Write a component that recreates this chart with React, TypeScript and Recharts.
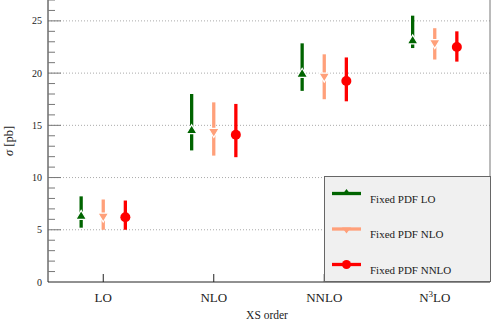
import React from 'react';
import {
  ComposedChart,
  Scatter,
  XAxis,
  YAxis,
  ErrorBar,
  ReferenceLine,
  Legend,
} from 'recharts';

// ---- data ----
const categories = ['LO', 'NLO', 'NNLO', 'N3LO'];

const fixedLoCentral = [6.4, 14.6, 20.0, 23.2];
const fixedLoLow = [5.2, 12.6, 18.3, 22.4];
const fixedLoHigh = [8.2, 18.0, 22.85, 25.5];

const fixedNloCentral = [6.2, 14.3, 19.6, 22.8];
const fixedNloLow = [5.0, 12.1, 17.5, 21.3];
const fixedNloHigh = [7.9, 17.2, 21.8, 24.3];

const fixedNnloCentral = [6.2, 14.1, 19.25, 22.5];
const fixedNnloLow = [5.0, 11.95, 17.3, 21.1];
const fixedNnloHigh = [7.8, 17.05, 21.5, 24.0];

const seriesNames = ['Fixed PDF LO', 'Fixed PDF NLO', 'Fixed PDF NNLO'];
const seriesOffsets = [-0.2, 0, 0.2];

const yTicks = Array.from({ length: 28 }, (_, i) => i);
const gridValues = [5, 10, 15, 20, 25];
const xTicks = [0, 1, 2, 3];

const COLORS = ['#006400', '#FFA07A', '#FF0000'];
const FONT = '"Liberation Serif", "Times New Roman", serif';

function build(central: number[], low: number[], high: number[], off: number) {
  return central.map((v, i) => ({
    x: i + off,
    y: v,
    err: [v - low[i], high[i] - v],
  }));
}

const seriesData = [
  build(fixedLoCentral, fixedLoLow, fixedLoHigh, seriesOffsets[0]),
  build(fixedNloCentral, fixedNloLow, fixedNloHigh, seriesOffsets[1]),
  build(fixedNnloCentral, fixedNnloLow, fixedNnloHigh, seriesOffsets[2]),
];

// ---- markers ----
const TriUp = (p: any) => {
  const { cx, cy } = p;
  if (cx == null || cy == null) return <g />;
  return (
    <polygon
      points={`${cx},${cy - 4.8} ${cx + 5.4},${cy + 4.2} ${cx - 5.4},${cy + 4.2}`}
      fill={COLORS[0]}
      stroke="#fff"
      strokeWidth={1.2}
    />
  );
};
const TriDown = (p: any) => {
  const { cx, cy } = p;
  if (cx == null || cy == null) return <g />;
  return (
    <polygon
      points={`${cx},${cy + 4.8} ${cx + 5.4},${cy - 4.2} ${cx - 5.4},${cy - 4.2}`}
      fill={COLORS[1]}
      stroke="#fff"
      strokeWidth={1.2}
    />
  );
};
const Dot = (p: any) => {
  const { cx, cy } = p;
  if (cx == null || cy == null) return <g />;
  return <circle cx={cx} cy={cy} r={5} fill={COLORS[2]} />;
};
const Empty = () => <g />;
const shapes = [TriUp, TriDown, Dot];

// ---- ticks ----
const YTick = (props: any) => {
  const { x, y, payload } = props;
  const v = payload.value;
  const major = v % 5 === 0;
  const ax = x + 6;
  return (
    <g>
      {v !== 0 && (
        <line x1={ax} x2={ax + (major ? 13 : 7)} y1={y} y2={y} stroke="#777" strokeWidth={1} />
      )}
      {major && (
        <text x={x} y={y} dy={3.5} textAnchor="end" fontSize={10} fontFamily={FONT} fill="#222">
          {v}
        </text>
      )}
    </g>
  );
};

const XTick = (props: any) => {
  const { x, y, payload } = props;
  const label = categories[payload.value];
  return (
    <g>
      <line x1={x} x2={x} y1={y - 8} y2={y} stroke="#222" strokeWidth={1} />
      <text x={x} y={y + 20} textAnchor="middle" fontSize={13} fontFamily={FONT} fill="#222">
        {label === 'N3LO' ? (
          <>
            N<tspan fontSize={9} dy={-5}>3</tspan>
            <tspan dy={5}>LO</tspan>
          </>
        ) : (
          label
        )}
      </text>
    </g>
  );
};

// ---- legend ----
const LegendIcon = ({ i, y }: { i: number; y: number }) => {
  const cx = 21.5;
  const c = COLORS[i];
  return (
    <g>
      <line x1={7} x2={36} y1={y} y2={y} stroke={c} strokeWidth={3.3} />
      {i === 0 && (
        <polygon points={`${cx},${y - 4.5} ${cx + 4.5},${y + 1.5} ${cx - 4.5},${y + 1.5}`} fill={c} />
      )}
      {i === 1 && (
        <polygon points={`${cx},${y + 4.5} ${cx + 4.5},${y - 1.5} ${cx - 4.5},${y - 1.5}`} fill={c} />
      )}
      {i === 2 && <circle cx={cx} cy={y} r={4.5} fill={c} />}
    </g>
  );
};

const LegendContent = () => (
  <div
    style={{
      width: 167,
      height: 106,
      boxSizing: 'border-box',
      border: '1px solid #666',
      background: '#f0f0f0',
    }}
  >
    <svg width={165} height={104} style={{ display: 'block' }}>
      {seriesNames.map((name, i) => {
        const y = 16.5 + i * 35.5;
        return (
          <g key={name}>
            <LegendIcon i={i} y={y} />
            <text x={45} y={y + 9} fontSize={11} fontFamily={FONT} fill="#222">
              {name}
            </text>
          </g>
        );
      })}
    </svg>
  </div>
);

export default function App() {
  return (
    <div style={{ position: 'absolute', left: 0, top: 0, width: 491, height: 322, background: '#fff' }}>
      <ComposedChart width={491} height={322} margin={{ top: 0, right: 0, bottom: 0, left: 0 }}>
        <XAxis
          xAxisId="main"
          type="number"
          dataKey="x"
          domain={[-0.5, 3.5]}
          ticks={xTicks}
          allowDataOverflow
          height={40}
          tickSize={0}
          tickMargin={0}
          tickLine={false}
          axisLine={{ stroke: '#222', strokeWidth: 1 }}
          tick={<XTick />}
          interval={0}
          label={{
            content: (lp: any) => {
              const vb = lp.viewBox || {};
              return (
                <text
                  x={(vb.x ?? 48) + (vb.width ?? 442) / 2 - 2}
                  y={319}
                  textAnchor="middle"
                  fontSize={11.5}
                  fontFamily={FONT}
                  fill="#222"
                >
                  XS order
                </text>
              );
            },
          }}
        />
        <XAxis
          xAxisId="top"
          orientation="top"
          type="number"
          dataKey="x"
          domain={[-0.5, 3.5]}
          height={0}
          tick={false}
          tickLine={false}
          axisLine={{ stroke: '#777', strokeWidth: 1 }}
        />
        <YAxis
          yAxisId="main"
          type="number"
          dataKey="y"
          domain={[0, 27]}
          ticks={yTicks}
          interval={0}
          width={48}
          tickSize={0}
          tickMargin={6}
          tickLine={false}
          axisLine={{ stroke: '#222', strokeWidth: 1 }}
          tick={<YTick />}
          allowDataOverflow
          label={{
            content: (lp: any) => {
              const vb = lp.viewBox || {};
              const cy = (vb.y ?? 0) + (vb.height ?? 282) / 2;
              return (
                <text
                  x={13}
                  y={cy}
                  transform={`rotate(-90 13 ${cy})`}
                  textAnchor="middle"
                  fontSize={12.5}
                  fontFamily={FONT}
                  fill="#222"
                >
                  <tspan fontStyle="italic">σ</tspan> [pb]
                </text>
              );
            },
          }}
        />
        <YAxis
          yAxisId="right"
          orientation="right"
          type="number"
          domain={[0, 27]}
          width={1}
          tick={false}
          tickLine={false}
          axisLine={{ stroke: '#777', strokeWidth: 1 }}
        />
        {gridValues.map((g) => (
          <ReferenceLine
            key={g}
            xAxisId="main"
            yAxisId="main"
            y={g}
            stroke="#aaa"
            strokeWidth={1}
            strokeDasharray="1 2"
          />
        ))}
        {seriesData.map((d, i) => (
          <Scatter
            key={`err-${i}`}
            xAxisId="main"
            yAxisId="main"
            data={d}
            dataKey="y"
            shape={<Empty />}
            isAnimationActive={false}
            legendType="none"
          >
            <ErrorBar
              dataKey="err"
              direction="y"
              width={0}
              stroke={COLORS[i]}
              strokeWidth={3.3}
              isAnimationActive={false}
            />
          </Scatter>
        ))}
        {seriesData.map((d, i) => {
          const S = shapes[i];
          return (
            <Scatter
              key={`mk-${i}`}
              name={seriesNames[i]}
              xAxisId="main"
              yAxisId="main"
              data={d}
              dataKey="y"
              shape={<S />}
              fill={COLORS[i]}
              isAnimationActive={false}
            />
          );
        })}
        <Legend
          layout="vertical"
          align="center"
          verticalAlign="middle"
          content={<LegendContent />}
          wrapperStyle={{ position: 'absolute', left: 324, top: 176, width: 167, height: 106, margin: 0 }}
        />
      </ComposedChart>
    </div>
  );
}
